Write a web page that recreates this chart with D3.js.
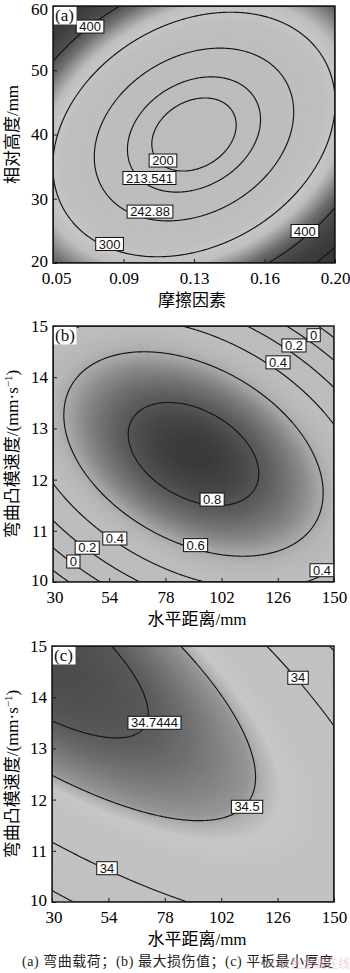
<!DOCTYPE html>
<html><head><meta charset="utf-8">
<script src="https://cdn.jsdelivr.net/npm/d3@7/dist/d3.min.js"></script>
<style>body{margin:0;background:#fff}svg{display:block}</style>
</head><body>
<script>
// ================= DATA =================
// Panel (a): bending load vs friction factor / relative height
const aXDomain = [0.05, 0.20];
const aYDomain = [20, 60];
const aXTicks = [0.05, 0.0875, 0.125, 0.1625, 0.20];
const aXTickLabels = ["0.05", "0.09", "0.13", "0.16", "0.20"];
const aYTicks = [20, 30, 40, 50, 60];
const aLevels = [200, 213.541, 242.88, 300, 400, 500];
// response model in coded units u,v in [-1,1]: [b0, bU, bV, bUU, bVV, bUV]; curv = coefficient on P^2
const aCoef = [191.1, 0, 0, 105.6, 116.9, -57.7];
const aCurv = 0.001045;
// contour labels: [level, x, y] in data units
const aLabels = [[400, 0.0697, 56.8], [200, 0.1085, 35.95], [213.541, 0.1013, 33.23], [242.88, 0.1016, 28.0], [300, 0.0801, 22.96], [400, 0.184, 24.98]];
const aShadeStops = [190, 280, 305, 325, 345, 370, 400, 450, 560];
const aShadeGray = [188, 191, 198, 190, 155, 112, 80, 64, 52];

// Panel (b): maximum damage value
const bXDomain = [30, 150];
const bYDomain = [10, 15];
const bXTicks = [30, 54, 78, 102, 126, 150];
const bYTicks = [10, 11, 12, 13, 14, 15];
const bLevels = [-0.2, 0, 0.2, 0.4, 0.6, 0.8];
const bCoef = [0.868, 0, 0, -0.368, -0.4915, -0.324];
const bCurv = 0;
const bLabels = [[0, 141.3, 14.82], [0.2, 132.9, 14.62], [0.4, 126.1, 14.29], [0.8, 97.96, 11.61], [0.6, 90.9, 10.72], [0.4, 56.4, 10.85], [0.2, 44.6, 10.67], [0, 38.7, 10.40], [0.4, 144.9, 10.23]];
const bShadeStops = [-0.4, 0.45, 0.55, 0.62, 0.7, 0.8, 0.87];
const bShadeGray = [189, 189, 182, 165, 128, 86, 56];

// Panel (c): minimum plate thickness
const cXDomain = [30, 150];
const cYDomain = [10, 15];
const cXTicks = [30, 54, 78, 102, 126, 150];
const cYTicks = [10, 11, 12, 13, 14, 15];
const cLevels = [33.5, 34, 34.5, 34.7444];
const cCoef = [34.631, -0.1668, 0.2137, -0.2907, -0.4033, -0.5253];
const cCurv = 0;
const cLabels = [[34, 134.7, 14.38], [34.7444, 73.6, 13.5], [34.5, 113.0, 11.86], [34, 53.4, 10.66]];
const cShadeStops = [33.3, 34.3, 34.42, 34.48, 34.52, 34.63, 34.7444, 34.86];
const cShadeGray = [193, 194, 199, 178, 150, 122, 90, 72];

const caption = "(a) 弯曲载荷；(b) 最大损伤值；(c) 平板最小厚度";

// ================= LAYOUT =================
const W = 350, H = 973;
const serif = "'Liberation Serif','Times New Roman','Noto Sans CJK SC',serif";
const cjk = "'Liberation Serif','Noto Sans CJK SC',serif";
const sans = "'Liberation Sans',Arial,sans-serif";

const panels = [
  { tag: "(a)", xDomain: aXDomain, yDomain: aYDomain, xTicks: aXTicks, xTickLabels: aXTickLabels,
    yTicks: aYTicks, levels: aLevels, coef: aCoef, curv: aCurv, labels: aLabels,
    stops: aShadeStops, grays: aShadeGray, xTitle: "摩擦因素", yTitle: ["相对高度/mm"],
    box: { left: 53, right: 335, top: 6, bottom: 263 }, xTitleX: 192, firstShift: 3 },
  { tag: "(b)", xDomain: bXDomain, yDomain: bYDomain, xTicks: bXTicks, xTickLabels: bXTicks.map(String),
    yTicks: bYTicks, levels: bLevels, coef: bCoef, curv: bCurv, labels: bLabels,
    stops: bShadeStops, grays: bShadeGray, xTitle: "水平距离/mm", yTitle: ["弯曲凸模速度/(mm·s", "−1", ")"],
    box: { left: 53, right: 334, top: 326, bottom: 582 }, xTitleX: 197, firstShift: 1.5 },
  { tag: "(c)", xDomain: cXDomain, yDomain: cYDomain, xTicks: cXTicks, xTickLabels: cXTicks.map(String),
    yTicks: cYTicks, levels: cLevels, coef: cCoef, curv: cCurv, labels: cLabels,
    stops: cShadeStops, grays: cShadeGray, xTitle: "水平距离/mm", yTitle: ["弯曲凸模速度/(mm·s", "−1", ")"],
    box: { left: 52, right: 334, top: 646, bottom: 902 }, xTitleX: 197, firstShift: 1.5 }
];

const svg = d3.select("body").append("svg")
  .attr("width", W).attr("height", H)
  .attr("viewBox", `0 0 ${W} ${H}`);

function model(coef, curv, u, v) {
  const p = coef[1] * u + coef[2] * v + coef[3] * u * u + coef[4] * v * v + coef[5] * u * v;
  return coef[0] + p + curv * p * p;
}

panels.forEach((P, pi) => {
  const b = P.box;
  const x = d3.scaleLinear().domain(P.xDomain).range([b.left, b.right]);
  const y = d3.scaleLinear().domain(P.yDomain).range([b.bottom, b.top]);
  const xm = (P.xDomain[0] + P.xDomain[1]) / 2, xh = (P.xDomain[1] - P.xDomain[0]) / 2;
  const ym = (P.yDomain[0] + P.yDomain[1]) / 2, yh = (P.yDomain[1] - P.yDomain[0]) / 2;

  const nx = Math.round(b.right - b.left), ny = Math.round(b.bottom - b.top);
  const cw = (b.right - b.left) / nx, ch = (b.bottom - b.top) / ny;
  const values = new Float64Array(nx * ny);
  for (let j = 0; j < ny; j++) {
    const yv = y.invert(b.top + (j + 0.5) * ch);
    const v = (yv - ym) / yh;
    for (let i = 0; i < nx; i++) {
      const xv = x.invert(b.left + (i + 0.5) * cw);
      const u = (xv - xm) / xh;
      values[j * nx + i] = model(P.coef, P.curv, u, v);
    }
  }
  const proj = d3.geoTransform({
    point(px, py) { this.stream.point(b.left + px * cw, b.top + py * ch); }
  });
  const path = d3.geoPath(proj);

  const grayScale = d3.scaleLinear().domain(P.stops).range(P.grays).clamp(true);
  const color = val => { const g = Math.round(grayScale(val)); return `rgb(${g},${g},${g})`; };

  const clipId = "clip" + pi;
  svg.append("clipPath").attr("id", clipId)
    .append("rect").attr("x", b.left).attr("y", b.top)
    .attr("width", b.right - b.left).attr("height", b.bottom - b.top);

  const g = svg.append("g").attr("clip-path", `url(#${clipId})`);

  // shaded background via many filled contour bands
  const vmin = d3.min(values), vmax = d3.max(values);
  const nb = 220, step = (vmax - vmin) / nb;
  const thr = d3.range(1, nb).map(k => vmin + k * step);
  g.append("rect").attr("x", b.left).attr("y", b.top)
    .attr("width", b.right - b.left).attr("height", b.bottom - b.top)
    .attr("fill", color(vmin + step / 2));
  const bands = d3.contours().size([nx, ny]).thresholds(thr)(values);
  g.selectAll("path.band").data(bands).join("path")
    .attr("class", "band").attr("d", path)
    .attr("fill", d => color(d.value + step / 2))
    .attr("stroke", d => color(d.value + step / 2)).attr("stroke-width", 0.4);

  // contour lines
  const lines = d3.contours().size([nx, ny]).thresholds(P.levels)(values);
  g.selectAll("path.iso").data(lines).join("path")
    .attr("class", "iso").attr("d", path)
    .attr("fill", "none").attr("stroke", "#151515").attr("stroke-width", 1.15);

  // contour labels
  const lg = g.selectAll("g.lab").data(P.labels).join("g")
    .attr("class", "lab")
    .attr("transform", d => `translate(${x(d[1])},${y(d[2])})`);
  const rects = lg.append("rect").attr("fill", "#fff").attr("stroke", "#111").attr("stroke-width", 1);
  const texts = lg.append("text").attr("font-family", sans).attr("font-size", 13)
    .attr("text-anchor", "middle").attr("dy", "0.36em").attr("fill", "#111")
    .text(d => String(d[0]));
  texts.each(function (d, i) {
    const w = this.getComputedTextLength() + 6;
    d3.select(rects.nodes()[i]).attr("x", -w / 2).attr("y", -6.5).attr("width", w).attr("height", 13);
  });

  // panel tag
  svg.append("rect").attr("x", b.left + 0.5).attr("y", b.top + 0.5).attr("width", 23).attr("height", 18).attr("fill", "#fff");
  svg.append("text").attr("x", b.left + 2).attr("y", b.top + 15)
    .attr("font-family", serif).attr("font-size", 17).attr("fill", "#111").text(P.tag);

  // frame
  svg.append("rect").attr("x", b.left).attr("y", b.top)
    .attr("width", b.right - b.left).attr("height", b.bottom - b.top)
    .attr("fill", "none").attr("stroke", "#1a1a1a").attr("stroke-width", 1.5);

  // axes (inward ticks)
  const xa = svg.append("g").attr("transform", `translate(0,${b.bottom})`)
    .call(d3.axisBottom(x).tickValues(P.xTicks).tickFormat((d, i) => P.xTickLabels[i])
      .tickSizeInner(-4).tickSizeOuter(0).tickPadding(8.5));
  const ya = svg.append("g").attr("transform", `translate(${b.left},0)`)
    .call(d3.axisLeft(y).tickValues(P.yTicks).tickFormat(d => String(d))
      .tickSizeInner(-4).tickSizeOuter(0).tickPadding(5));
  [xa, ya].forEach(a => {
    a.select(".domain").remove();
    a.selectAll(".tick line").attr("stroke", "#1a1a1a");
    a.selectAll(".tick text").attr("font-family", serif).attr("font-size", 17).attr("fill", "#000");
  });
  // first x label sits slightly right of its tick; keep it clear of the lowest y label
  xa.selectAll(".tick text").filter(d => d === P.xTicks[0]).attr("x", P.firstShift);
  ya.selectAll(".tick text").filter(d => d === P.yTicks[0]).attr("dy", "0.2em");
  // keep the top y tick label inside the picture
  ya.selectAll(".tick text").filter(d => d === P.yTicks[P.yTicks.length - 1] && y(d) < 10)
    .attr("dy", "0.5em");

  // axis titles
  svg.append("text").attr("x", P.xTitleX).attr("y", b.bottom + 43)
    .attr("text-anchor", "middle").attr("font-family", cjk).attr("font-size", 17).attr("fill", "#000")
    .text(P.xTitle);
  const cy = (b.top + b.bottom) / 2;
  const yt = svg.append("text").attr("transform", `translate(18,${cy}) rotate(-90)`)
    .attr("text-anchor", "middle").attr("font-family", cjk).attr("font-size", 17).attr("fill", "#000");
  yt.append("tspan").text(P.yTitle[0]);
  if (P.yTitle.length > 1) {
    yt.append("tspan").attr("dy", -6).attr("font-size", 11).text(P.yTitle[1]);
    yt.append("tspan").attr("dy", 6).text(P.yTitle[2]);
  }
});

// caption
svg.append("text").attr("x", 22).attr("y", 966)
  .attr("font-family", cjk).attr("font-size", 14).attr("fill", "#222")
  .attr("textLength", 311).attr("lengthAdjust", "spacing")
  .text(caption);
svg.append("text").attr("x", 268).attr("y", 968)
  .attr("font-family", "'Noto Sans CJK SC',sans-serif").attr("font-size", 12).attr("fill", "#f0a8b8").attr("opacity", 0.5)
  .text("©有色金属在线");
</script>
</body></html>
